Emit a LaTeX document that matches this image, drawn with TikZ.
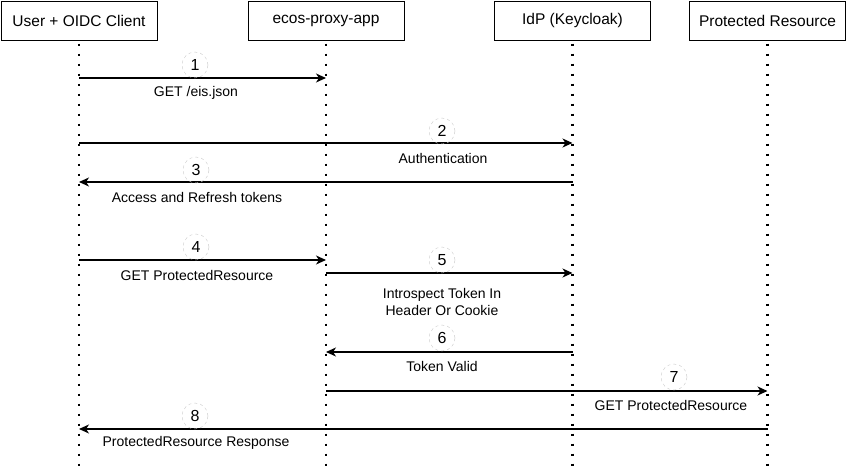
\documentclass[tikz,border=0pt]{standalone}
\usepackage{fontspec}
\setmainfont{Liberation Sans}
\usetikzlibrary{arrows.meta}

\begin{document}
\begin{tikzpicture}[x=1pt,y=-1pt]
            \tikzset{actor/.style = {shape=rectangle,draw,line width=1pt,minimum width=156pt,minimum height=39pt,font=\fontsize{15.5}{18}\selectfont}}
            \tikzset{lifeline/.style = {line width=2.5pt,dash pattern=on 2.5pt off 7.5pt}}
            \tikzset{msg/.style = {->,> = {Stealth[length=10pt,width=9pt,inset=3pt]},line width=1.1pt}}
            \tikzset{num/.style = {shape=circle,draw=black!22,dash pattern=on 3pt off 3pt,minimum size=26pt,inner sep=0pt,font=\fontsize{16}{18}\selectfont}}
            \tikzset{msglabel/.style = {font=\fontsize{14}{17}\selectfont,align=center}}
            \useasboundingbox (0,0) rectangle (847,472);

            \node[actor] (client) at (79,20.5) {User + OIDC Client};
            \node[actor] (proxy) at (326,20.5) {ecos-proxy-app};
            \node[actor] (idp) at (572.5,20.5) {IdP (Keycloak)};
            \node[actor] (res) at (767.5,20.5) {Protected Resource};

            \coordinate (bottom) at (0,472);
            \coordinate (y1) at (0,78);
            \coordinate (y2) at (0,143);
            \coordinate (y3) at (0,182);
            \coordinate (y4) at (0,260);
            \coordinate (y5) at (0,273);
            \coordinate (y6) at (0,352);
            \coordinate (y7) at (0,391);
            \coordinate (y8) at (0,429);

            \draw[lifeline] ([yshift=-3pt]client.south) -- (client.south |- bottom);
            \draw[lifeline] ([yshift=-3pt]proxy.south) -- (proxy.south |- bottom);
            \draw[lifeline] ([yshift=-3pt]idp.south) -- (idp.south |- bottom);
            \draw[lifeline] ([yshift=-3pt]res.south) -- (res.south |- bottom);

            \draw[msg] (client |- y1) to (proxy |- y1);
            \draw[msg] (client |- y2) to (idp |- y2);
            \draw[msg] (idp |- y3) to (client |- y3);
            \draw[msg] (client |- y4) to (proxy |- y4);
            \draw[msg] (proxy |- y5) to (idp |- y5);
            \draw[msg] (idp |- y6) to (proxy |- y6);
            \draw[msg] (proxy |- y7) to (res |- y7);
            \draw[msg] (res |- y8) to (client |- y8);

            \node[num] (n1) at (195,65) {1};
            \node[num] (n2) at (442,131) {2};
            \node[num] (n3) at (196,170) {3};
            \node[num] (n4) at (196,247) {4};
            \node[num] (n5) at (442,260) {5};
            \node[num] (n6) at (442,338) {6};
            \node[num] (n7) at (674,377) {7};
            \node[num] (n8) at (195,416) {8};

            \node[msglabel] (l1) at (196,93) {GET /eis.json};
            \node[msglabel] (l2) at (443,158) {Authentication};
            \node[msglabel] (l3) at (197,197) {Access and Refresh tokens};
            \node[msglabel] (l4) at (197,275) {GET ProtectedResource};
            \node[msglabel] (l5) at (442,302) {Introspect Token In\\ Header Or Cookie};
            \node[msglabel] (l6) at (442,366) {Token Valid};
            \node[msglabel] (l7) at (671,405) {GET ProtectedResource};
            \node[msglabel] (l8) at (196,443) {ProtectedResource Response};
        \end{tikzpicture}
\end{document}
